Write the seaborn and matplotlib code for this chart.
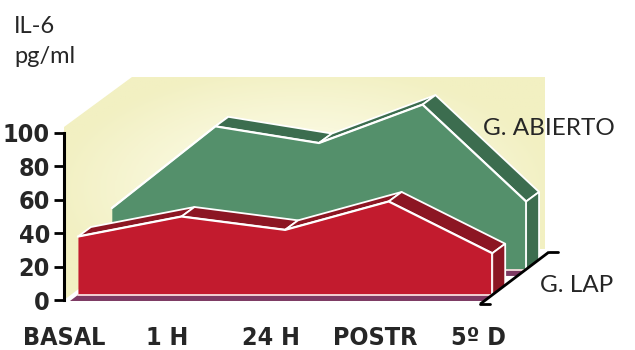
import numpy as np
import matplotlib
matplotlib.use("Agg")
import matplotlib.pyplot as plt
import seaborn as sns
from matplotlib.patches import Polygon
from matplotlib.colors import LinearSegmentedColormap
from matplotlib.font_manager import FontProperties

# ---------------- data ----------------
categories = ["BASAL", "1 H", "24 H", "POSTR", "5º D"]
g_lap = [38, 50, 42, 59, 28]          # front ribbon (red)
g_abierto = [40, 89, 79, 102, 44]     # back ribbon (green), relative to its own raised floor
y_ticks = [0, 20, 40, 60, 80, 100]
series_names = ["G. ABIERTO", "G. LAP"]

# ---------------- geometry (pixels) ----------------
W, H = 635, 350
PX_X = 104.0     # px per category step
PX_Y = 1.67      # px per value unit
X0 = 62          # px position of category 0 label
Y0 = 300         # px position of value 0

def X(px):
    return (px - X0) / PX_X

def Y(py):
    return (Y0 - py) / PX_Y

sns.set_theme(style="white")
plt.rcParams['font.family'] = ['DejaVu Sans']

fig = plt.figure(figsize=(6.35, 3.5), dpi=100)

# background axes in pixel coordinates for the pale back wall
bg = fig.add_axes([0, 0, 1, 1])
bg.set_xlim(0, W)
bg.set_ylim(H, 0)
bg.axis("off")
wall_px = [(64, 300), (64, 127), (132, 77), (545, 77), (545, 249), (132, 249)]
wall = Polygon(wall_px, closed=True, facecolor="none", edgecolor="none")
bg.add_patch(wall)
gx = np.linspace(-1, 1, 200)
gy = np.linspace(-1, 1, 120)
GX, GY = np.meshgrid(gx, gy)
grad = np.clip(np.sqrt((GX * 0.95) ** 2 + (GY * 0.9) ** 2), 0, 1)
cmap = LinearSegmentedColormap.from_list("wall", ["#fdfdf0", "#f9f8dc", "#f2f0c2"])
im = bg.imshow(grad, cmap=cmap, extent=(64, 545, 300, 77), aspect="auto", origin="upper",
               zorder=0)
im.set_clip_path(wall)

left_px, right_px = 64, 555
ax = fig.add_axes([left_px / W, (H - Y0) / H, (right_px - left_px) / W, (100 * PX_Y) / H])
ax.set_xlim(X(left_px), X(right_px))
ax.set_ylim(0, 100)
ax.patch.set_alpha(0)

# ---------------- ribbons ----------------
DDX, DDY = 13 / PX_X, 9.5 / PX_Y     # depth of each ribbon
SDX, SDY = -8 / PX_X, -6 / PX_Y      # floor slab under each ribbon
PURPLE = "#7d3a63"

def ribbon(vals, xoff_px, base, lift, front, dark, z):
    xs = np.arange(len(vals)) + xoff_px / PX_X
    tops = np.asarray(vals, dtype=float) + lift
    slab = Polygon([(xs[0], base), (xs[-1], base), (xs[-1] + SDX, base + SDY), (xs[0] + SDX, base + SDY)],
                   closed=True, facecolor=PURPLE, edgecolor="none", zorder=z, clip_on=False)
    ax.add_patch(slab)
    for i in range(len(xs) - 1):
        p = [(xs[i], tops[i]), (xs[i + 1], tops[i + 1]),
             (xs[i + 1] + DDX, tops[i + 1] + DDY), (xs[i] + DDX, tops[i] + DDY)]
        ax.add_patch(Polygon(p, closed=True, facecolor=dark, edgecolor="white", lw=1.3,
                             zorder=z + 1, clip_on=False, joinstyle="round"))
    rf = [(xs[-1], base), (xs[-1], tops[-1]), (xs[-1] + DDX, tops[-1] + DDY), (xs[-1] + DDX, base + DDY)]
    ax.add_patch(Polygon(rf, closed=True, facecolor=dark, edgecolor="white", lw=1.3,
                         zorder=z + 1, clip_on=False))
    ax.fill_between(xs, base, tops, color=front, lw=0, zorder=z + 2, clip_on=False)
    sns.lineplot(x=xs, y=tops, color="white", lw=1.6, ax=ax, zorder=z + 3, clip_on=False,
                 sort=False, estimator=None)
    ax.plot([xs[0], xs[-1]], [base, base], color="#f6dede", lw=1.3, zorder=z + 3, clip_on=False)
    ax.plot([xs[-1], xs[-1]], [base, tops[-1]], color="white", lw=1.3, zorder=z + 3, clip_on=False)

ribbon(g_abierto, 48, 18.0, 15.0, "#54906b", "#3c6d4f", 2)
ribbon(g_lap, 14, 3.0, 0.0, "#c21b2e", "#8c1623", 10)

# ---------------- axes styling ----------------
tick_fp_y = FontProperties(family="DejaVu Sans", weight="bold", stretch="condensed", size=18)
tick_fp_x = FontProperties(family="DejaVu Sans", weight="bold", stretch="condensed", size=18)

for s in ["top", "right", "bottom"]:
    ax.spines[s].set_visible(False)
ax.spines["left"].set_color("black")
ax.spines["left"].set_linewidth(2.2)
ax.spines["left"].set_zorder(20)
ax.set_yticks(y_ticks)
ax.set_yticklabels([str(v) for v in y_ticks], fontproperties=tick_fp_y)
ax.tick_params(axis="y", direction="out", length=7, width=2, color="black", pad=3, left=True)
ax.set_xticks(range(len(categories)))
ax.set_xticklabels(categories, fontproperties=tick_fp_x)
ax.tick_params(axis="x", length=0, pad=19)
ax.grid(False)

# depth axis
ax.plot([X(480), X(549)], [Y(304), Y(252)], color="black", lw=2, zorder=25, clip_on=False,
        solid_capstyle="butt")
ax.plot([X(549), X(558)], [Y(252), Y(252)], color="black", lw=2, zorder=25, clip_on=False)
ax.plot([X(480), X(490)], [Y(304), Y(304)], color="black", lw=2, zorder=25, clip_on=False)

# ---------------- texts ----------------
lato = ["Lato", "DejaVu Sans"]
fig.text(14 / W, 1 - 33 / H, "IL-6", fontsize=17, family=lato, va="baseline", ha="left")
fig.text(14 / W, 1 - 63 / H, "pg/ml", fontsize=17, family=lato, va="baseline", ha="left")
fig.text(483 / W, 1 - 135 / H, series_names[0], fontsize=17.5, family=lato, va="baseline", ha="left")
fig.text(540 / W, 1 - 292 / H, series_names[1], fontsize=17.5, family=lato, va="baseline", ha="left")

fig.savefig("out.png", dpi=100)
